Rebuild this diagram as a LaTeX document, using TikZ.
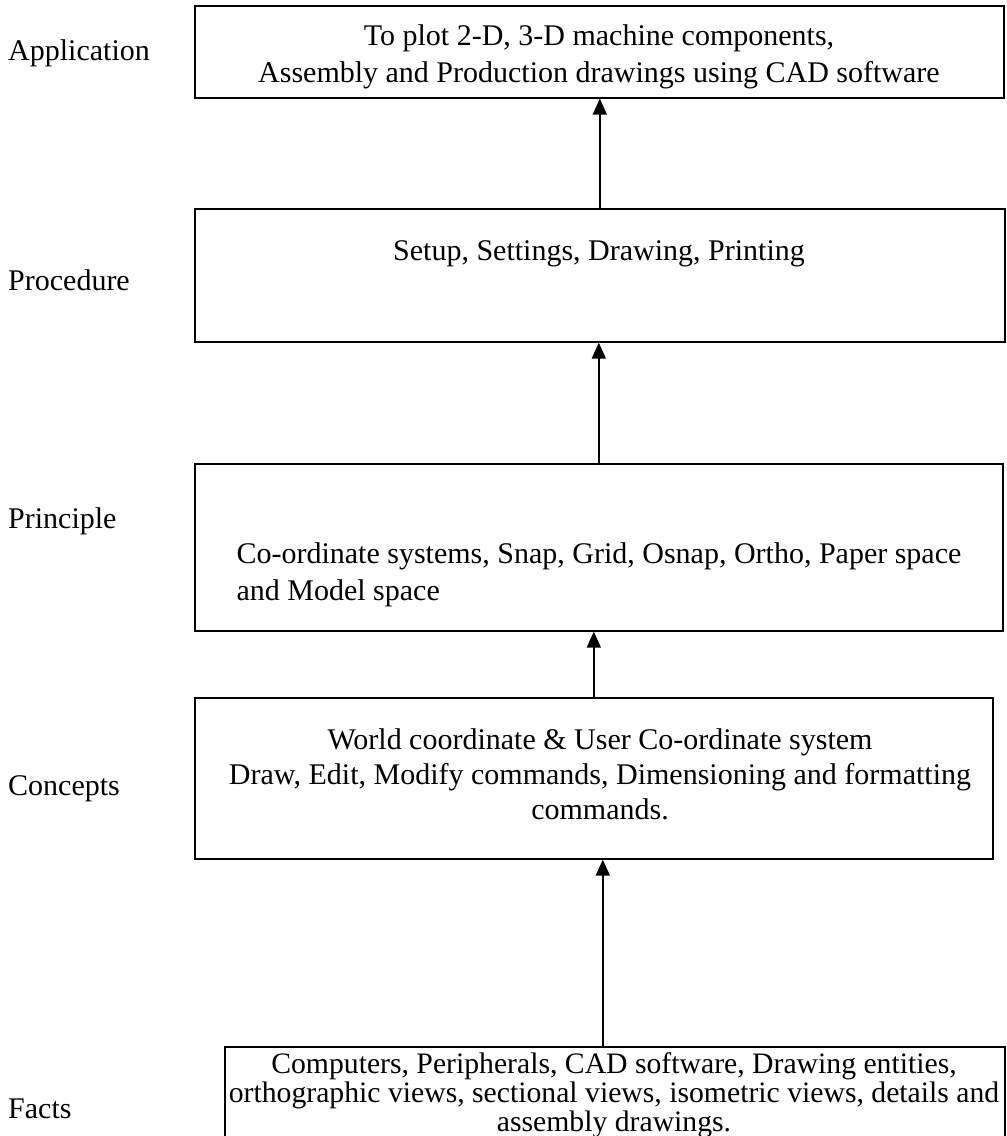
\documentclass[tikz,border=0pt]{standalone}
\usepackage{fontspec}
\setmainfont{Liberation Serif}
\usetikzlibrary{arrows.meta}
\begin{document}
\begin{tikzpicture}[x=1pt,y=-1pt,
  every node/.style={font=\fontsize{30}{35}\selectfont, inner sep=0pt},
  box/.style={draw, line width=1.6pt, anchor=north west},
  lbl/.style={anchor=mid west},
  txt/.style={align=center},
  arr/.style={line width=1.6pt, -{Triangle[length=16pt,width=14pt]}}]
\useasboundingbox (0,0) rectangle (1007,1136);
\clip (0,0) rectangle (1007,1136);
% boxes
\node[box, minimum width=809pt, minimum height=92pt] (b1) at (194,5) {};
\node[box, minimum width=810pt, minimum height=133pt] (b2) at (194,208) {};
\node[box, minimum width=808pt, minimum height=167pt] (b3) at (194,463) {};
\node[box, minimum width=798pt, minimum height=161pt] (b4) at (194,697) {};
\node[box, minimum width=780pt, minimum height=150pt] (b5) at (224,1046) {};
% texts
\node[txt, font=\fontsize{30}{37}\selectfont] (t1) at (599,56.5) {To plot 2-D, 3-D machine components,\\Assembly and Production drawings using CAD software};
\node[anchor=mid] (t2) at (599,258) {Setup, Settings, Drawing, Printing};
\node[align=left, font=\fontsize{30}{37}\selectfont] (t3) at (599,575) {Co-ordinate systems, Snap, Grid, Osnap, Ortho, Paper space\\and Model space};
\node[txt] (t4) at (600,774) {World coordinate \& User Co-ordinate system\\Draw, Edit, Modify commands, Dimensioning and formatting\\commands.};
\node[txt, font=\fontsize{29.7}{29}\selectfont] (t5) at (614,1095) {Computers, Peripherals, CAD software, Drawing entities,\\orthographic views, sectional views, isometric views, details and\\assembly drawings.};
% labels
\node[lbl] (l1) at (8,58) {Application};
\node[lbl] (l2) at (8,288) {Procedure};
\node[lbl] (l3) at (8,526) {Principle};
\node[lbl] (l4) at (8,793) {Concepts};
\node[lbl] (l5) at (8,1116) {Facts};
% arrows
\draw[arr] (b2.north) -- (b2.north |- b1.south);
\draw[arr] (b3.north) -- (b3.north |- b2.south);
\draw[arr] (b4.north) -- (b4.north |- b3.south);
\draw[arr] ([xshift=-12pt]b5.north) -- ([xshift=-12pt]b5.north |- b4.south);
\end{tikzpicture}
\end{document}
